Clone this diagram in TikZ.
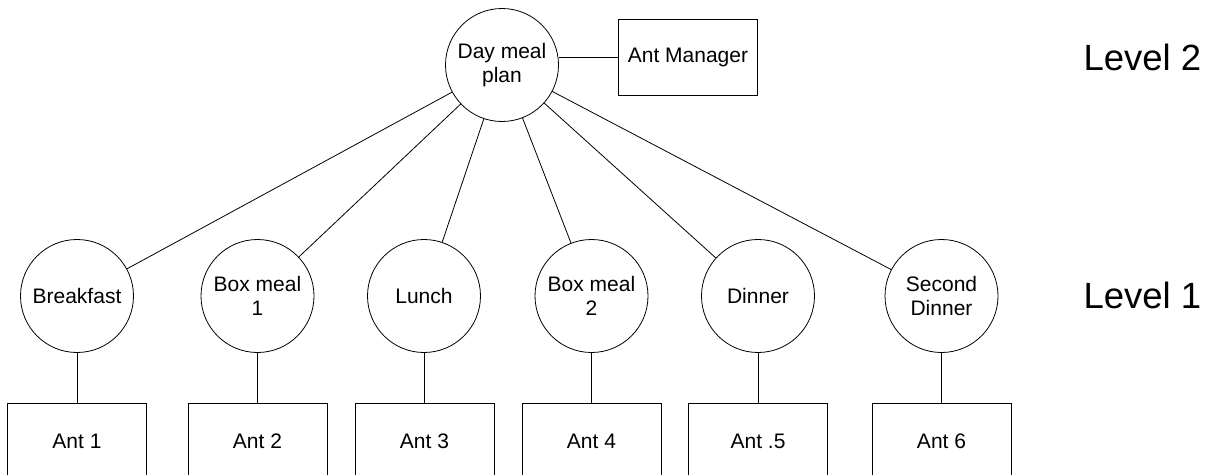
\documentclass[tikz,border=0pt]{standalone}
\usepackage{fontspec}
\setmainfont{Liberation Sans}
\begin{document}
\begin{tikzpicture}[x=1pt,y=-1pt,
  every node/.style={font=\fontsize{21}{23.5}\selectfont},
  meal/.style={draw,circle,minimum size=113pt,inner sep=0pt,align=center,line width=0.8pt},
  antbox/.style={draw,rectangle,minimum width=139pt,minimum height=76pt,inner sep=0pt,line width=0.8pt},
  lvl/.style={anchor=west,font=\fontsize{36.5}{40}\selectfont},
  link/.style={line width=0.8pt}]
\useasboundingbox (0,0) rectangle (1212,474);
\clip (0,0) rectangle (1212,474);
\node[meal] (dm) at (502,65) {Day meal\\plan};
\node[antbox] (am) at (688,57) {Ant Manager};
\node[lvl] (l2) at (1080,57) {Level 2};
\node[lvl] (l1) at (1080,295.5) {Level 1};
\node[meal] (c1) at (77,296) {Breakfast};
\node[meal] (c2) at (257.5,296) {Box meal\\1};
\node[meal] (c3) at (424,296) {Lunch};
\node[meal] (c4) at (591.5,296) {Box meal\\2};
\node[meal] (c5) at (758,296) {Dinner};
\node[meal] (c6) at (941.5,296) {Second\\Dinner};
\node[antbox] (a1) at (77,441) {Ant 1};
\node[antbox] (a2) at (257.5,441) {Ant 2};
\node[antbox] (a3) at (424.5,441) {Ant 3};
\node[antbox] (a4) at (591.5,441) {Ant 4};
\node[antbox] (a5) at (758,441) {Ant .5};
\node[antbox] (a6) at (941.5,441) {Ant 6};
\draw[link] (am.west) -- (am.west -| dm.east);
\foreach \i in {1,...,6}{
  \draw[link] (dm) -- (c\i);
  \draw[link] (c\i.south) -- (c\i.south |- a\i.north);
}
\end{tikzpicture}
\end{document}
